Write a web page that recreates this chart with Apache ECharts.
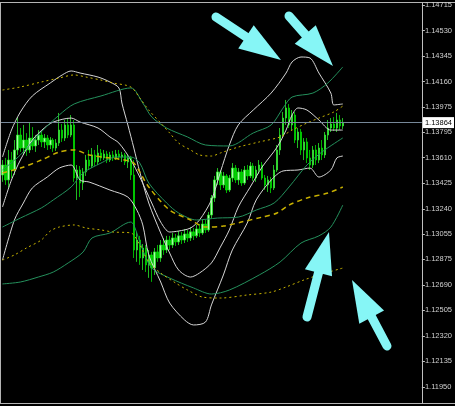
<!DOCTYPE html>
<html>
<head>
<meta charset="utf-8">
<script src="https://cdn.jsdelivr.net/npm/echarts@6/dist/echarts.min.js"></script>
<style>
  html, body { margin: 0; padding: 0; background: #000; }
  #chart { width: 455px; height: 406px; }
</style>
</head>
<body>
<div id="chart"></div>
<script>
// price scale labels (right axis)
var tickVals = [1.14715, 1.14530, 1.14345, 1.14160, 1.13975, 1.13795, 1.13610, 1.13425,
  1.13240, 1.13055, 1.12875, 1.12690, 1.12505, 1.12320, 1.12135, 1.11950];
var lastPrice = 1.13864;

// candles: [open, close, low, high]
var candles = [
  [1.13485, 1.13557, 1.13435, 1.13593], [1.13557, 1.13449, 1.13413, 1.13608], [1.13449, 1.13593, 1.13391, 1.13666],
  [1.13593, 1.13521, 1.13463, 1.13652], [1.13521, 1.13666, 1.13485, 1.13738], [1.13666, 1.13774, 1.13630, 1.13904],
  [1.13774, 1.13680, 1.13652, 1.13825], [1.13680, 1.13738, 1.13630, 1.13847], [1.13738, 1.13666, 1.13623, 1.13788],
  [1.13666, 1.13752, 1.13644, 1.13861], [1.13752, 1.13695, 1.13666, 1.13832], [1.13695, 1.13738, 1.13652, 1.13774],
  [1.13738, 1.13774, 1.13702, 1.13810], [1.13774, 1.13724, 1.13687, 1.13803], [1.13724, 1.13752, 1.13680, 1.13781],
  [1.13752, 1.13702, 1.13666, 1.13774], [1.13702, 1.13738, 1.13673, 1.13759], [1.13738, 1.13680, 1.13652, 1.13752],
  [1.13680, 1.13716, 1.13659, 1.13745], [1.13716, 1.13810, 1.13695, 1.13934], [1.13810, 1.13752, 1.13724, 1.13854],
  [1.13752, 1.13847, 1.13731, 1.13883], [1.13847, 1.13774, 1.13752, 1.13897], [1.13774, 1.13847, 1.13759, 1.13919],
  [1.13847, 1.13463, 1.13435, 1.13883], [1.13463, 1.13521, 1.13304, 1.13557], [1.13521, 1.13427, 1.13325, 1.13550],
  [1.13427, 1.13507, 1.13376, 1.13535], [1.13507, 1.13593, 1.13478, 1.13630], [1.13593, 1.13550, 1.13521, 1.13666],
  [1.13550, 1.13630, 1.13535, 1.13680], [1.13630, 1.13579, 1.13550, 1.13666], [1.13579, 1.13644, 1.13557, 1.13702],
  [1.13644, 1.13608, 1.13586, 1.13673], [1.13608, 1.13637, 1.13593, 1.13666], [1.13637, 1.13593, 1.13571, 1.13659],
  [1.13593, 1.13630, 1.13579, 1.13652], [1.13630, 1.13608, 1.13586, 1.13659], [1.13608, 1.13637, 1.13593, 1.13666],
  [1.13637, 1.13615, 1.13593, 1.13666], [1.13615, 1.13630, 1.13579, 1.13652], [1.13630, 1.13579, 1.13557, 1.13644],
  [1.13579, 1.13608, 1.13535, 1.13630], [1.13608, 1.13485, 1.13449, 1.13623], [1.13485, 1.12942, 1.12884, 1.13593],
  [1.12942, 1.13014, 1.12856, 1.13073], [1.13014, 1.12884, 1.12834, 1.13044], [1.12884, 1.12956, 1.12797, 1.12985],
  [1.12956, 1.12834, 1.12783, 1.12978], [1.12834, 1.12906, 1.12740, 1.12942], [1.12906, 1.12812, 1.12711, 1.12928],
  [1.12812, 1.12928, 1.12761, 1.12956], [1.12928, 1.12884, 1.12856, 1.12978], [1.12884, 1.12978, 1.12856, 1.13014],
  [1.12978, 1.12942, 1.12906, 1.13029], [1.12942, 1.13014, 1.12920, 1.13044], [1.13014, 1.12978, 1.12942, 1.13044],
  [1.12978, 1.13029, 1.12956, 1.13065], [1.13029, 1.13000, 1.12971, 1.13058], [1.13000, 1.13044, 1.12978, 1.13080],
  [1.13044, 1.13014, 1.12985, 1.13073], [1.13014, 1.13058, 1.12992, 1.13094], [1.13058, 1.13029, 1.13000, 1.13087],
  [1.13029, 1.13073, 1.13007, 1.13108], [1.13073, 1.13044, 1.13014, 1.13101], [1.13044, 1.13094, 1.13029, 1.13123],
  [1.13094, 1.13065, 1.13036, 1.13130], [1.13065, 1.13130, 1.13051, 1.13159], [1.13130, 1.13087, 1.13065, 1.13159],
  [1.13087, 1.13195, 1.13073, 1.13217], [1.13195, 1.13318, 1.13173, 1.13340], [1.13318, 1.13449, 1.13290, 1.13478],
  [1.13449, 1.13507, 1.13413, 1.13535], [1.13507, 1.13413, 1.13376, 1.13521], [1.13413, 1.13478, 1.13391, 1.13507],
  [1.13478, 1.13376, 1.13354, 1.13492], [1.13376, 1.13463, 1.13362, 1.13485], [1.13463, 1.13535, 1.13435, 1.13571],
  [1.13535, 1.13449, 1.13427, 1.13557], [1.13449, 1.13507, 1.13413, 1.13535], [1.13507, 1.13427, 1.13406, 1.13528],
  [1.13427, 1.13521, 1.13413, 1.13550], [1.13521, 1.13478, 1.13449, 1.13557], [1.13478, 1.13550, 1.13463, 1.13579],
  [1.13550, 1.13463, 1.13442, 1.13571], [1.13463, 1.13521, 1.13435, 1.13550], [1.13521, 1.13557, 1.13492, 1.13593],
  [1.13557, 1.13463, 1.13449, 1.13579], [1.13463, 1.13413, 1.13376, 1.13485], [1.13413, 1.13449, 1.13362, 1.13478],
  [1.13449, 1.13391, 1.13354, 1.13470], [1.13391, 1.13521, 1.13376, 1.13557], [1.13521, 1.13666, 1.13507, 1.13702],
  [1.13666, 1.13774, 1.13630, 1.13825], [1.13774, 1.13897, 1.13752, 1.13941], [1.13897, 1.13970, 1.13847, 1.14028],
  [1.13970, 1.13847, 1.13825, 1.13999], [1.13847, 1.13919, 1.13810, 1.13955], [1.13919, 1.13738, 1.13716, 1.13941],
  [1.13738, 1.13796, 1.13680, 1.13825], [1.13796, 1.13666, 1.13630, 1.13818], [1.13666, 1.13724, 1.13593, 1.13752],
  [1.13724, 1.13608, 1.13571, 1.13752], [1.13608, 1.13557, 1.13521, 1.13666], [1.13557, 1.13666, 1.13535, 1.13695],
  [1.13666, 1.13593, 1.13557, 1.13702], [1.13593, 1.13680, 1.13571, 1.13716], [1.13680, 1.13630, 1.13593, 1.13738],
  [1.13630, 1.13774, 1.13608, 1.13796], [1.13774, 1.13825, 1.13738, 1.13883], [1.13825, 1.13854, 1.13796, 1.13897],
  [1.13854, 1.13825, 1.13803, 1.13904], [1.13825, 1.13883, 1.13796, 1.13934], [1.13883, 1.13840, 1.13810, 1.13919],
  [1.13840, 1.13864, 1.13818, 1.13897]
];

// band lines, [bar index, price]
var whiteA = [[0,1.13615],[3,1.13810],[6,1.13941],[10,1.14057],[16,1.14151],[20,1.14209],[23,1.14238],[26,1.14223],
  [32,1.14194],[36,1.14158],[39,1.14115],[40,1.14006],[42,1.13847],[44,1.13680],[46,1.13506],[49,1.13282],[53,1.13065],
  [56,1.12920],[59,1.12797],[63,1.12746],[66,1.12775],[70,1.12848],[73,1.12963],[76,1.13087],[79,1.13253],[83,1.13398],
  [87,1.13543],[92,1.13687],[95,1.13810],[97,1.13919],[99,1.13970],[102,1.13955],[106,1.13883],[110,1.13810],[114,1.13810]];
var whiteB = [[0,1.13253],[3,1.13448],[6,1.13593],[10,1.13738],[14,1.13825],[17,1.13868],[23,1.13897],[26,1.13868],
  [32,1.13825],[36,1.13760],[39,1.13716],[43,1.13593],[46,1.13470],[50,1.13282],[53,1.13144],[56,1.13072],[59,1.13079],
  [63,1.13101],[66,1.13159],[70,1.13304],[73,1.13506],[76,1.13702],[79,1.13847],[84,1.13955],[90,1.14078],[95,1.14223],
  [97,1.14303],[100,1.14339],[103,1.14332],[106,1.14223],[110,1.14078],[111,1.13992],[114,1.13999]];
var whiteC = [[0,1.12869],[4,1.13159],[7,1.13282],[10,1.13391],[15,1.13470],[19,1.13535],[23,1.13557],[26,1.13448],
  [29,1.13434],[36,1.13376],[42,1.13325],[45,1.13231],[47,1.13123],[49,1.12906],[53,1.12710],[56,1.12558],[61,1.12435],
  [64,1.12399],[68,1.12420],[70,1.12544],[74,1.12761],[77,1.12942],[82,1.13137],[85,1.13304],[90,1.13448],[94,1.13514],
  [99,1.13521],[103,1.13535],[106,1.13470],[110,1.13521],[112,1.13608],[114,1.13622]];
var greenUp = [[0,1.13521],[6,1.13630],[13,1.13797],[19,1.13919],[24,1.13999],[33,1.14057],[43,1.14115],[47,1.14006],
  [50,1.13905],[55,1.13825],[62,1.13760],[68,1.13702],[76,1.13695],[84,1.13789],[90,1.13847],[94,1.13970],[97,1.14049],
  [104,1.14078],[109,1.14151],[114,1.14267]];
var greenMid = [[0,1.13108],[6,1.13173],[13,1.13246],[17,1.13304],[23,1.13398],[27,1.13499],[33,1.13571],[38,1.13615],
  [43,1.13615],[46,1.13571],[49,1.13427],[55,1.13282],[59,1.13210],[65,1.13159],[72,1.13173],[79,1.13180],[85,1.13231],
  [91,1.13282],[96,1.13398],[102,1.13557],[107,1.13651],[114,1.13753]];
var greenLow = [[0,1.12696],[6,1.12710],[12,1.12746],[17,1.12782],[22,1.12848],[27,1.12927],[30,1.13029],[36,1.13065],
  [43,1.13144],[44,1.13123],[47,1.12942],[50,1.12811],[56,1.12739],[64,1.12667],[70,1.12623],[76,1.12652],[86,1.12761],
  [93,1.12855],[100,1.12992],[106,1.13044],[110,1.13108],[114,1.13267]];
var goldUp = [[0,1.14100],[6,1.14122],[13,1.14158],[19,1.14187],[24,1.14209],[28,1.14194],[33,1.14172],[37,1.14151],
  [43,1.14122],[46,1.14042],[49,1.13955],[53,1.13861],[56,1.13789],[59,1.13716],[63,1.13666],[66,1.13630],[70,1.13622],
  [73,1.13644],[79,1.13687],[86,1.13724],[93,1.13760],[97,1.13810],[102,1.13861],[106,1.13897],[111,1.13941],[114,1.13984]];
var goldMid = [[0,1.13499],[6,1.13535],[13,1.13593],[19,1.13651],[24,1.13666],[29,1.13630],[36,1.13608],[41,1.13593],
  [44,1.13571],[49,1.13398],[56,1.13231],[63,1.13159],[68,1.13108],[74,1.13115],[80,1.13144],[87,1.13180],[92,1.13210],
  [96,1.13267],[102,1.13318],[109,1.13354],[114,1.13398]];
var goldLow = [[0,1.12869],[4,1.12906],[8,1.12956],[13,1.13014],[16,1.13079],[19,1.13108],[24,1.13123],[28,1.13101],
  [33,1.13087],[37,1.13072],[43,1.13065],[46,1.12978],[49,1.12855],[53,1.12775],[58,1.12703],[62,1.12652],[67,1.12601],
  [73,1.12594],[82,1.12616],[90,1.12637],[95,1.12674],[101,1.12725],[106,1.12761],[114,1.12811]];

// annotation arrows, [tail, tip] in pixels
var arrows = [
  [[216, 17], [281, 60]],
  [[289, 16], [333, 66]],
  [[307, 317], [329, 232]],
  [[387, 346], [352, 280]]
];

var barCount = 141; // includes chart shift on the right
var cats = [];
for (var i = 0; i < barCount; i++) cats.push(String(i));

var cyan = '#86f6f6';
function arrowShapes(tail, tip) {
  var dx = tip[0] - tail[0], dy = tip[1] - tail[1];
  var len = Math.sqrt(dx * dx + dy * dy);
  var ux = dx / len, uy = dy / len, px = -uy, py = ux;
  var headLen = 42, half = 14;
  var bx = tip[0] - ux * headLen, by = tip[1] - uy * headLen;
  return [
    { type: 'line', z: 100, shape: { x1: tail[0], y1: tail[1], x2: bx + ux * 3, y2: by + uy * 3 },
      style: { stroke: cyan, lineWidth: 9, lineCap: 'round' } },
    { type: 'polygon', z: 100, shape: { points: [[tip[0], tip[1]], [bx + px * half, by + py * half], [bx - px * half, by - py * half]] },
      style: { fill: cyan } }
  ];
}

var graphics = [
  { type: 'line', shape: { x1: 0, y1: 2.5, x2: 455, y2: 2.5 }, style: { stroke: '#b4b4b4', lineWidth: 1 } },
  { type: 'line', shape: { x1: 0, y1: 403.5, x2: 455, y2: 403.5 }, style: { stroke: '#b4b4b4', lineWidth: 1 } },
  { type: 'line', shape: { x1: 0.5, y1: 2.5, x2: 0.5, y2: 403.5 }, style: { stroke: '#b4b4b4', lineWidth: 1 } }
];
arrows.forEach(function (a) { graphics = graphics.concat(arrowShapes(a[0], a[1])); });

function band(data, color, type, width) {
  return {
    type: 'line', data: data, smooth: 0.3, showSymbol: false, silent: true, z: 3,
    lineStyle: { color: color, width: width || 1, type: type || 'solid' }
  };
}

// bid line with its price box
var bidSeries = {
  type: 'line', data: [], silent: true, z: 4,
  markLine: {
    symbol: 'none', silent: true, animation: false, precision: 5,
    lineStyle: { color: '#778899', width: 1, type: 'solid' },
    label: {
      position: 'end', distance: 1, color: '#000', backgroundColor: '#fff', padding: [2, 2, 1, 2],
      fontSize: 7.5, fontFamily: 'Liberation Sans, Arial, sans-serif',
      formatter: function () { return lastPrice.toFixed(5); }
    },
    data: [{ yAxis: lastPrice }]
  }
};

var chart = echarts.init(document.getElementById('chart'));
chart.setOption({
  backgroundColor: '#000',
  animation: false,
  grid: { left: 1, right: 33, top: 3, bottom: 3 },
  xAxis: {
    type: 'category', data: cats, boundaryGap: true, show: false
  },
  yAxis: {
    type: 'value', position: 'right', min: 1.11834, max: 1.14730, scale: true,
    axisLine: { show: true, lineStyle: { color: '#c0c0c0', width: 1 } },
    axisTick: { show: true, length: 3, customValues: tickVals, lineStyle: { color: '#c0c0c0' } },
    axisLabel: {
      customValues: tickVals, margin: 3, color: '#d0d0d0', fontSize: 7.5,
      fontFamily: 'Liberation Sans, Arial, sans-serif',
      formatter: function (v) { return v.toFixed(5); }
    },
    splitLine: { show: false }
  },
  graphic: graphics,
  series: [
    {
      type: 'candlestick', data: candles, barWidth: 2, z: 2,
      itemStyle: { color: '#a8ffa8', color0: '#00d200', borderColor: '#2aea2a', borderColor0: '#00dc00', borderWidth: 0.8 }
    },
    band(whiteA, '#d6d6d6'),
    band(whiteB, '#d6d6d6'),
    band(whiteC, '#d6d6d6'),
    band(greenUp, '#24905c'),
    band(greenMid, '#24905c'),
    band(greenLow, '#24905c'),
    band(goldUp, '#c8b400', [2, 3]),
    band(goldMid, '#c8b000', [5, 4], 1.5),
    band(goldLow, '#c8b400', [2, 3]),
    bidSeries
  ]
});
</script>
</body>
</html>
